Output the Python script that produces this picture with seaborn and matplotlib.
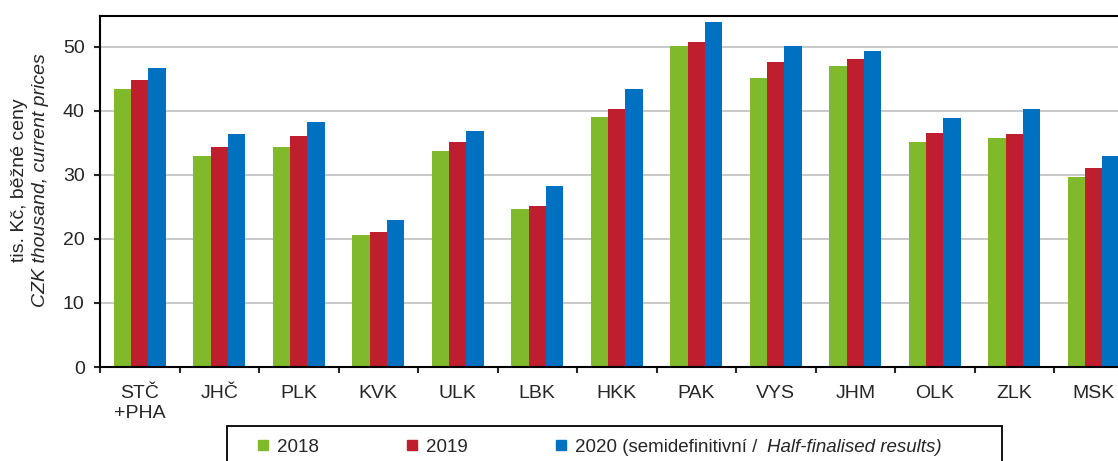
import numpy as np
import pandas as pd
import matplotlib
matplotlib.use('Agg')
import matplotlib.pyplot as plt
from matplotlib.lines import Line2D
from matplotlib.patches import Rectangle
import seaborn as sns

# Average wage by region, CZK thousand
regions = ['STČ\n+PHA', 'JHČ', 'PLK', 'KVK', 'ULK', 'LBK', 'HKK',
           'PAK', 'VYS', 'JHM', 'OLK', 'ZLK', 'MSK']
v2018 = [43.4, 33.0, 34.4, 20.6, 33.8, 24.6, 39.1, 50.1, 45.1, 47.0, 35.2, 35.8, 29.6]
v2019 = [44.8, 34.4, 36.1, 21.1, 35.2, 25.1, 40.3, 50.7, 47.6, 48.1, 36.6, 36.3, 31.0]
v2020 = [46.7, 36.3, 38.3, 22.9, 36.9, 28.2, 43.4, 53.8, 50.1, 49.3, 38.9, 40.3, 33.0]
years = ['2018', '2019', '2020']
colors = ['#80BA2C', '#BE1E2D', '#0070C0']

df = pd.DataFrame({
    'region': regions * 3,
    'year': [y for y in years for _ in regions],
    'value': v2018 + v2019 + v2020,
})

sns.set_style('ticks')
plt.rcParams['font.family'] = ['Liberation Sans', 'DejaVu Sans']
fs = 14

W, H = 1118, 461
fig = plt.figure(figsize=(W / 100, H / 100), dpi=100)
# the frame runs past the right edge of the picture, as in the original
ax = fig.add_axes([100 / W, 1 - 367 / H, (1133.5 - 100) / W, (367 - 16) / H])

sns.barplot(data=df, x='region', y='value', hue='year', palette=colors,
            width=0.66, gap=0, saturation=1, linewidth=0, legend=False, ax=ax)

ax.set_xlim(-0.5, len(regions) - 0.5)
ax.set_ylim(0, 54.8)
ax.set_yticks(np.arange(0, 51, 10))
ax.yaxis.grid(True, color='#c8c8c8', linewidth=1.4)
ax.set_axisbelow(True)
for s in ax.spines.values():
    s.set_visible(True)
    s.set_linewidth(1.5)
    s.set_color('black')

ax.set_xticks(range(len(regions)))
ax.set_xticklabels(regions, fontsize=fs)
ax.set_xticks(np.arange(-0.5, len(regions), 1), minor=True)
ax.tick_params(axis='x', which='major', length=0, pad=13)
ax.tick_params(axis='x', which='minor', length=4.2, width=1.5, direction='out')
ax.tick_params(axis='y', length=4, width=1.5, direction='out', pad=7, labelsize=fs)
ax.set_xlabel('')
ax.set_ylabel('')

# two-line y label, second line italic
yc = 1 - 180 / H
fig.text(19.6 / W, yc, 'tis. Kč, běžné ceny', rotation=90, ha='center', va='center', fontsize=fs)
fig.text(41 / W, yc, 'CZK thousand, current prices', rotation=90, ha='center', va='center',
         fontsize=fs, style='italic')

# legend
lfs = 13.5
handles = [Line2D([], [], marker='s', linestyle='none', markersize=7.2, color=c) for c in colors]
labels = ['2018', '2019', '2020 (semidefinitivní /']
leg = fig.legend(handles, labels, ncol=3, frameon=False, loc='center left',
                 bbox_to_anchor=(257.1 / W, 1 - 447 / H), fontsize=lfs, borderpad=0,
                 borderaxespad=0, handlelength=0.6, handletextpad=0.45, columnspacing=4.67)
fig.add_artist(Rectangle((227.3 / W, -0.1), (1002 - 227.3) / W, 0.1 + 1 - 426 / H,
                         transform=fig.transFigure, fill=False, edgecolor='black',
                         linewidth=1.3, clip_on=False))

# italic tail of the last legend entry
fig.canvas.draw()
bb = leg.get_texts()[2].get_window_extent()
fig.text((bb.x1 + 10) / W, 1 - 447 / H, 'Half-finalised results)', ha='left', va='center',
         fontsize=lfs, style='italic')

fig.savefig('out.png', dpi=100)
